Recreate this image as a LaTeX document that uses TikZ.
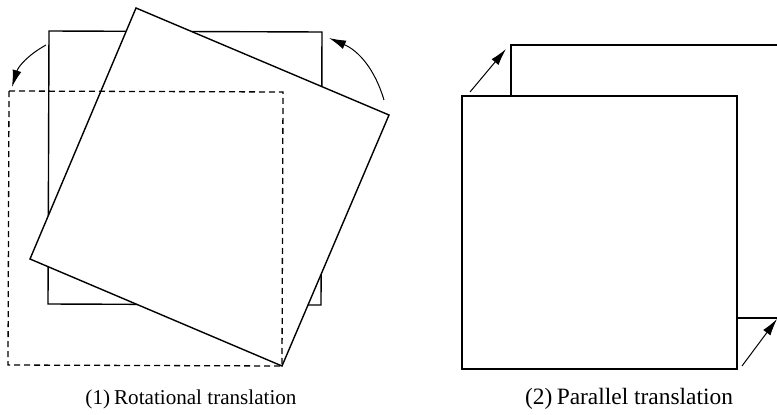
\documentclass[tikz,border=0pt]{standalone}
\usepackage{fontspec}
\usepackage{graphicx}
\setmainfont{Liberation Serif}
\usetikzlibrary{arrows.meta}
\begin{document}
\begin{tikzpicture}[x=1pt,y=-1pt,
  edge/.style={line width=1.4pt,line join=miter},
  dashedge/.style={line width=1.3pt,dash pattern=on 6pt off 4pt},
  movearrow/.style={line width=1pt,-{Latex[length=17pt,width=9pt]}},
  caption/.style={font=\fontsize{21}{25}\selectfont,anchor=base,inner sep=0pt}]
\useasboundingbox (0,0) rectangle (777,415);
% ---- (1) rotational translation ----
\draw[edge] (49,31) -- (322,32) -- (321,305) -- (48,304) -- cycle;
\draw[edge,fill=white] (136,8) -- (389,115) -- (282,366) -- (30,259) -- cycle;
\draw[dashedge] (9,91) -- (283,92) -- (282,366) -- (8,365) -- cycle;
\coordinate (la1) at (46,45);
\coordinate (la2) at (12,87);
\coordinate (ra1) at (384,100);
\coordinate (ra2) at (329,38);
\draw[movearrow] (la1) to[bend right=22] (la2);
\draw[movearrow] (ra1) to[bend right=25] (ra2);
\node[caption] (cap1) at (191,404) {\resizebox{211pt}{!}{(1)\hspace{4pt}Rotational translation}};
% ---- (2) parallel translation ----
\draw[edge] (511,45) rectangle (786,318);
\draw[edge,fill=white] (462,96) rectangle (737,369);
\coordinate (pa1) at (470,92);
\coordinate (pa2) at (506,49);
\coordinate (pb1) at (742,366);
\coordinate (pb2) at (777,319);
\draw[movearrow] (pa1) -- (pa2);
\draw[movearrow] (pb1) -- (pb2);
\node[caption] (cap2) at (629,404) {\resizebox{208pt}{!}{(2)\hspace{4pt}Parallel translation}};
\end{tikzpicture}
\end{document}
